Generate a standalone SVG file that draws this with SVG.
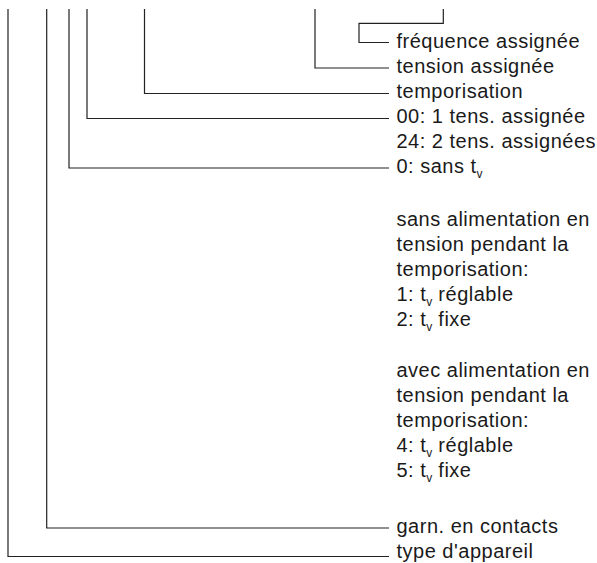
<svg xmlns="http://www.w3.org/2000/svg" width="597" height="563" viewBox="0 0 597 563">
<style>
.c{fill:none;stroke:#222;stroke-width:1.2}
.t{font-family:"Liberation Sans",Arial,Helvetica,sans-serif;font-size:20px;letter-spacing:0.5px;fill:#1a1a1a}
.s{font-size:12px;letter-spacing:0}
</style>
<rect width="597" height="563" fill="#fff"/>
<g id="connectors">
<path class="c" d="M8,9 V556.5 H389"/>
<path class="c" d="M46.7,9 V528 H389"/>
<path class="c" d="M69,9 V168 H389"/>
<path class="c" d="M87,9 V118.5 H389"/>
<path class="c" d="M144.5,9 V93.5 H389"/>
<path class="c" d="M315,9 V68 H389"/>
<path class="c" d="M443.3,9 V23.3 H359 V42.5 H389"/>
</g>
<g class="t">
<g id="frequence"><text x="396.5" y="48">fréquence assignée</text></g>
<g id="tension"><text x="396.5" y="73">tension assignée</text></g>
<g id="temporisation"><text x="396.5" y="98">temporisation</text></g>
<g id="nb-tensions"><text x="396.5" y="123">00: 1 tens. assignée</text><text x="396.5" y="148">24: 2 tens. assignées</text></g>
<g id="sans-tv"><text x="396.5" y="173">0: sans t<tspan class="s" dy="5">v</tspan></text></g>
<g id="sans-alim">
<text x="396.5" y="226">sans alimentation en</text>
<text x="396.5" y="251">tension pendant la</text>
<text x="396.5" y="276">temporisation:</text>
<text x="396.5" y="301">1: t<tspan class="s" dy="5">v</tspan><tspan dy="-5"> réglable</tspan></text>
<text x="396.5" y="326">2: t<tspan class="s" dy="5">v</tspan><tspan dy="-5"> fixe</tspan></text>
</g>
<g id="avec-alim">
<text x="396.5" y="377">avec alimentation en</text>
<text x="396.5" y="402">tension pendant la</text>
<text x="396.5" y="427">temporisation:</text>
<text x="396.5" y="452">4: t<tspan class="s" dy="5">v</tspan><tspan dy="-5"> réglable</tspan></text>
<text x="396.5" y="477">5: t<tspan class="s" dy="5">v</tspan><tspan dy="-5"> fixe</tspan></text>
</g>
<g id="contacts"><text x="396.5" y="533">garn. en contacts</text></g>
<g id="type"><text x="396.5" y="558">type d'appareil</text></g>
</g>
</svg>
